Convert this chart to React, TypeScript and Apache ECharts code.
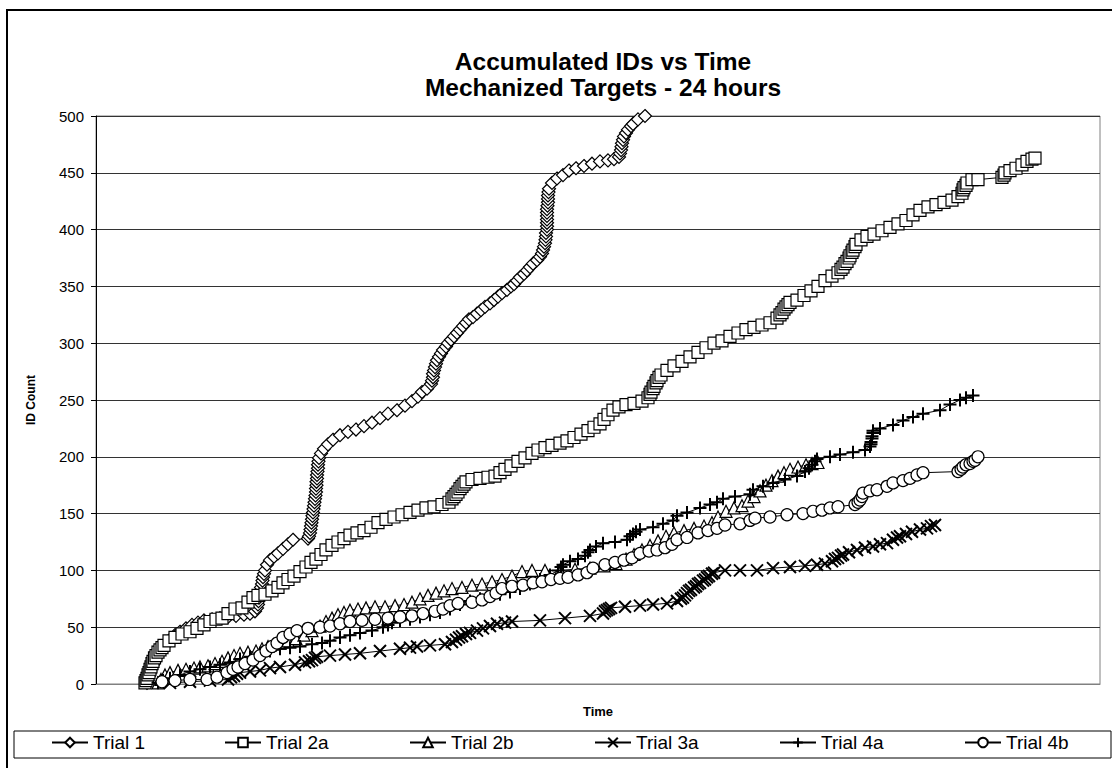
import React, { useEffect, useRef } from "react";
import * as echarts from "echarts";

// Time is in percent of the plotted time window (0 - 100.4), count is accumulated IDs
const trial1: [number, number][] = [
  [5.1, 1], [5.15, 3], [5.2, 5], [5.3, 7], [5.35, 9], [5.4, 11], [5.5, 13], [5.6, 15], [5.7, 17], [5.8, 19],
  [5.9, 21], [6.0, 23], [6.1, 25], [6.3, 27], [6.4, 29], [6.6, 31], [6.8, 33], [7.1, 36], [7.5, 40], [7.9, 43],
  [8.4, 46], [9.0, 49], [9.6, 52], [10.2, 54], [10.8, 56], [11.6, 57], [12.4, 58], [13.2, 59], [14.0, 60], [14.8, 61],
  [15.4, 62], [15.9, 64], [16.1, 67], [16.2, 70], [16.25, 73], [16.3, 76], [16.35, 79], [16.4, 82], [16.5, 85], [16.6, 88],
  [16.65, 91], [16.7, 94], [16.8, 97], [16.9, 100], [17.1, 105], [17.4, 109], [17.8, 112], [18.2, 115], [18.7, 119], [19.2, 123],
  [19.7, 127], [21.2, 128], [21.3, 130], [21.4, 133], [21.45, 136], [21.5, 139], [21.55, 142], [21.6, 145], [21.65, 148], [21.7, 151],
  [21.75, 154], [21.8, 157], [21.85, 160], [21.9, 163], [21.95, 166], [22.0, 169], [22.0, 172], [22.05, 175], [22.05, 178], [22.1, 181],
  [22.1, 184], [22.15, 187], [22.2, 190], [22.2, 193], [22.25, 196], [22.3, 199], [22.5, 203], [22.8, 207], [23.2, 211], [23.7, 215],
  [24.4, 219], [25.2, 222], [26.0, 224], [26.8, 227], [27.6, 230], [28.4, 234], [29.2, 238], [30.1, 241], [30.9, 245], [31.6, 249],
  [32.2, 253], [32.6, 257], [33.1, 260], [33.5, 264], [33.6, 267], [33.7, 270], [33.7, 273], [33.8, 276], [33.9, 279], [34.0, 282],
  [34.1, 285], [34.3, 288], [34.5, 291], [34.7, 294], [35.0, 297], [35.2, 300], [35.5, 303], [35.8, 306], [36.1, 309], [36.4, 312],
  [36.7, 315], [37.0, 318], [37.3, 321], [37.7, 323], [38.1, 326], [38.5, 329], [38.9, 332], [39.4, 335], [39.8, 338], [40.2, 341],
  [40.6, 344], [41.1, 347], [41.5, 350], [41.8, 352], [42.1, 355], [42.4, 358], [42.8, 361], [43.1, 364], [43.4, 367], [43.7, 370],
  [44.1, 373], [44.4, 376], [44.6, 379], [44.7, 382], [44.8, 385], [44.9, 388], [44.95, 391], [45.0, 394], [45.0, 397], [45.1, 400],
  [45.1, 403], [45.1, 406], [45.1, 409], [45.1, 412], [45.1, 415], [45.1, 418], [45.15, 421], [45.2, 424], [45.2, 427], [45.2, 430],
  [45.25, 433], [45.3, 436], [45.6, 441], [46.1, 445], [46.7, 448], [47.3, 452], [48.0, 454], [48.8, 456], [49.6, 458], [50.4, 460],
  [51.2, 461], [51.8, 462], [52.3, 464], [52.4, 467], [52.5, 470], [52.55, 473], [52.6, 476], [52.7, 479], [52.8, 482], [53.0, 485],
  [53.2, 488], [53.5, 491], [53.7, 493], [54.2, 497], [54.9, 500],
];

const trial2a: [number, number][] = [
  [4.9, 1], [5.0, 3], [5.1, 5], [5.2, 8], [5.3, 10], [5.4, 13], [5.5, 15], [5.6, 18], [5.7, 20], [5.85, 23],
  [6.0, 25], [6.2, 28], [6.4, 30], [6.6, 32], [6.8, 34], [7.3, 38], [7.9, 41], [8.6, 44], [9.4, 46], [10.1, 49],
  [10.8, 52], [11.4, 55], [12.0, 57], [12.6, 58], [13.2, 62], [13.9, 66], [14.6, 67], [15.2, 72], [15.7, 76], [16.2, 78],
  [16.9, 79], [17.6, 82], [18.2, 85], [18.7, 89], [19.2, 92], [19.8, 95], [20.4, 99], [21.0, 103], [21.5, 107], [22.0, 110],
  [22.5, 114], [23.0, 118], [23.6, 122], [24.2, 125], [24.8, 128], [25.4, 131], [26.1, 133], [26.8, 135], [27.5, 138], [28.2, 142],
  [29.0, 145], [29.8, 147], [30.6, 149], [31.4, 151], [32.2, 153], [33.0, 155], [33.8, 156], [34.6, 158], [35.3, 160], [35.6, 163],
  [35.8, 165], [36.0, 167], [36.2, 169], [36.4, 172], [36.6, 174], [36.8, 176], [37.0, 178], [37.6, 180], [38.4, 181], [39.2, 182],
  [39.9, 183], [40.4, 186], [40.9, 189], [41.5, 192], [42.2, 196], [42.9, 199], [43.6, 203], [44.2, 206], [44.9, 208], [45.6, 210],
  [46.4, 212], [47.1, 214], [47.8, 217], [48.5, 220], [49.2, 223], [49.8, 226], [50.4, 229], [50.8, 233], [51.2, 237], [51.7, 241],
  [52.3, 244], [53.0, 246], [53.8, 247], [54.6, 249], [55.2, 252], [55.4, 255], [55.5, 257], [55.7, 260], [55.8, 262], [56.0, 265],
  [56.1, 267], [56.3, 270], [56.5, 272], [57.1, 276], [57.8, 280], [58.6, 284], [59.4, 288], [60.2, 292], [61.0, 296], [61.8, 300],
  [62.6, 302], [63.4, 306], [64.2, 309], [65.0, 312], [65.8, 314], [66.6, 316], [67.4, 318], [68.1, 322], [68.4, 325], [68.6, 327],
  [68.8, 330], [69.0, 332], [69.2, 334], [69.4, 336], [70.1, 338], [70.8, 342], [71.5, 346], [72.2, 350], [72.9, 355], [73.6, 359],
  [74.2, 362], [74.5, 365], [74.7, 367], [74.9, 370], [75.1, 372], [75.3, 375], [75.4, 377], [75.6, 380], [75.7, 382], [75.9, 385],
  [76.0, 387], [76.5, 391], [77.1, 394], [77.8, 396], [78.6, 399], [79.4, 402], [80.2, 405], [81.0, 408], [81.7, 413], [82.4, 417],
  [83.2, 420], [84.0, 422], [84.8, 424], [85.6, 426], [86.2, 429], [86.6, 432], [86.7, 435], [86.8, 437], [87.0, 439], [87.1, 441],
  [87.6, 444], [88.2, 444], [90.6, 446], [90.8, 448], [90.9, 450], [91.4, 452], [92.0, 454], [92.6, 457], [93.1, 460], [93.6, 462],
  [93.9, 463],
];

const trial2b: [number, number][] = [
  [6.2, 1], [6.5, 4], [6.9, 8], [7.4, 10], [8.2, 12], [9.0, 13], [9.8, 14], [10.4, 15], [11.2, 16], [11.9, 18],
  [12.6, 20], [13.2, 23], [13.8, 25], [14.4, 27], [15.2, 28], [16.0, 29], [16.6, 31], [17.2, 33], [17.8, 35], [18.4, 36],
  [19.2, 38], [20.0, 40], [20.8, 43], [21.6, 47], [22.4, 51], [23.0, 55], [23.6, 58], [24.2, 61], [24.8, 63], [25.4, 65],
  [26.2, 66], [27.0, 67], [27.9, 68], [28.9, 68], [29.9, 69], [30.8, 70], [31.6, 72], [32.4, 75], [33.2, 78], [34.0, 80],
  [34.8, 82], [35.6, 84], [36.6, 85], [37.6, 87], [38.6, 88], [39.6, 90], [40.6, 92], [41.6, 95], [42.6, 99], [43.6, 100],
  [44.9, 100], [46.4, 100], [47.9, 101], [49.4, 102], [50.8, 104], [52.0, 106], [53.0, 110], [53.8, 114], [54.6, 118], [55.4, 122],
  [56.2, 126], [57.0, 130], [57.8, 133], [58.8, 135], [59.8, 137], [60.8, 139], [61.6, 142], [62.2, 147], [63.0, 152], [63.8, 155],
  [64.6, 157], [65.2, 161], [65.8, 165], [66.4, 170], [67.0, 175], [67.6, 179], [68.2, 183], [68.8, 186], [69.4, 189], [70.2, 191],
  [71.0, 193], [71.6, 194], [72.2, 195],
];

const trial3a: [number, number][] = [
  [7.4, 1], [9.4, 2], [11.4, 3], [13.2, 4], [13.5, 6], [13.8, 7], [14.1, 9], [14.4, 10], [15.4, 11], [16.4, 12],
  [17.4, 14], [18.4, 15], [19.9, 17], [20.9, 19], [21.3, 20], [21.6, 21], [21.9, 23], [22.1, 24], [23.4, 25], [24.9, 26],
  [26.4, 27], [28.4, 29], [30.4, 31], [31.4, 32], [32.1, 33], [33.4, 34], [34.9, 35], [35.6, 37], [36.0, 39], [36.3, 41],
  [36.6, 42], [37.0, 44], [37.4, 45], [38.1, 47], [38.7, 49], [39.4, 51], [40.1, 53], [40.9, 54], [41.6, 55], [44.4, 56],
  [46.9, 58], [49.4, 60], [50.7, 62], [50.9, 64], [51.1, 65], [51.3, 66], [51.5, 67], [52.9, 68], [54.4, 69], [55.7, 70],
  [57.1, 71], [58.1, 73], [58.5, 75], [58.7, 76], [58.9, 78], [59.1, 80], [59.3, 82], [59.5, 83], [59.8, 85], [60.0, 86],
  [60.2, 88], [60.4, 89], [60.7, 91], [60.9, 92], [61.1, 94], [61.3, 95], [61.6, 97], [61.8, 98], [62.9, 100], [64.4, 100],
  [66.1, 100], [67.7, 102], [69.4, 103], [70.9, 104], [72.1, 105], [72.9, 106], [73.6, 108], [73.9, 110], [74.2, 111], [74.5, 113],
  [74.7, 114], [75.3, 116], [76.1, 118], [76.9, 120], [77.7, 121], [78.4, 123], [79.1, 124], [79.7, 127], [80.1, 129], [80.4, 130],
  [81.0, 132], [81.6, 134], [82.4, 136], [83.1, 137], [83.5, 139], [83.9, 140],
];

const trial4a: [number, number][] = [
  [6.2, 1], [6.7, 3], [7.4, 5], [8.4, 8], [9.4, 11], [10.4, 13], [11.4, 15], [12.4, 17], [13.4, 19], [14.4, 22],
  [15.4, 24], [16.4, 27], [17.4, 29], [18.4, 31], [19.4, 32], [20.4, 33], [21.6, 35], [22.6, 36], [23.4, 38], [24.4, 41],
  [25.4, 43], [26.4, 45], [27.6, 47], [28.7, 50], [29.2, 52], [29.6, 54], [30.4, 56], [31.4, 57], [32.4, 59], [33.4, 61],
  [34.4, 63], [35.4, 66], [36.4, 70], [37.4, 73], [38.4, 75], [39.4, 77], [40.4, 79], [41.4, 81], [42.4, 84], [43.4, 88],
  [44.4, 92], [45.4, 96], [46.2, 100], [46.5, 103], [46.7, 105], [47.4, 108], [48.2, 110], [48.9, 113], [49.2, 116], [49.4, 118],
  [50.0, 121], [50.7, 124], [51.9, 125], [53.1, 127], [53.4, 130], [53.7, 132], [54.0, 134], [54.4, 136], [55.7, 138], [56.7, 141],
  [57.7, 144], [58.1, 148], [59.1, 151], [60.4, 155], [61.4, 158], [62.1, 160], [62.7, 163], [63.9, 165], [65.4, 167], [65.7, 171],
  [66.7, 174], [67.7, 177], [68.9, 180], [70.1, 183], [70.9, 187], [71.3, 190], [71.6, 193], [71.9, 196], [72.1, 198], [73.4, 200],
  [74.4, 202], [75.7, 204], [76.9, 206], [77.4, 209], [77.5, 211], [77.5, 213], [77.6, 216], [77.6, 218], [77.7, 221], [77.7, 223],
  [78.4, 225], [79.7, 228], [80.7, 232], [81.7, 235], [82.7, 238], [84.4, 241], [85.4, 246], [86.4, 250], [87.0, 252], [87.7, 254],
];

const trial4b: [number, number][] = [
  [6.6, 2], [7.9, 3], [9.4, 4], [11.1, 4], [12.1, 6], [13.1, 10], [13.7, 13], [14.2, 15], [14.9, 18], [15.7, 21],
  [16.4, 25], [17.0, 29], [17.6, 33], [18.1, 36], [18.7, 41], [19.4, 44], [20.1, 47], [21.2, 49], [22.4, 50], [23.4, 51],
  [24.4, 53], [25.4, 55], [26.6, 56], [27.9, 57], [29.2, 58], [30.4, 59], [31.6, 60], [32.7, 62], [33.9, 64], [34.7, 66],
  [35.4, 69], [36.2, 71], [37.6, 72], [38.6, 74], [39.4, 77], [40.0, 80], [40.6, 84], [41.6, 86], [42.7, 87], [43.7, 89],
  [44.6, 90], [45.5, 92], [46.4, 93], [47.2, 94], [48.2, 96], [49.1, 98], [49.7, 102], [50.9, 105], [51.9, 107], [52.8, 109],
  [53.6, 111], [54.4, 115], [55.3, 117], [56.1, 118], [56.9, 120], [57.6, 123], [58.1, 127], [59.1, 129], [60.2, 133], [61.2, 135],
  [62.1, 137], [62.9, 140], [64.4, 141], [65.4, 144], [65.9, 146], [67.4, 147], [69.1, 149], [70.7, 150], [71.7, 152], [72.6, 153],
  [73.4, 155], [74.2, 156], [75.9, 158], [76.2, 160], [76.4, 162], [76.6, 165], [76.7, 168], [77.4, 170], [78.1, 171], [79.1, 174],
  [79.7, 177], [80.7, 179], [81.4, 181], [82.1, 184], [82.7, 186], [86.2, 187], [86.5, 189], [86.7, 191], [87.0, 193], [87.4, 194],
  [87.7, 196], [87.9, 197], [88.2, 200],
];

const seriesNames = ["Trial 1", "Trial 2a", "Trial 2b", "Trial 3a", "Trial 4a", "Trial 4b"];
const yTicks = [0, 50, 100, 150, 200, 250, 300, 350, 400, 450, 500];

const FONT = '"Liberation Sans", Arial, Helvetica, sans-serif';
const CROSS = "path://M0,0L10,10M10,0L0,10";
const PLUS = "path://M5,0L5,10M0,5L10,5";

export default function App() {
  const ref = useRef<HTMLDivElement>(null);

  useEffect(() => {
    if (!ref.current) return;
    const chart = echarts.init(ref.current, null, { renderer: "svg" });

    const datasets = [trial1, trial2a, trial2b, trial3a, trial4a, trial4b];
    const symbols = ["diamond", "rect", "triangle", CROSS, PLUS, "circle"];
    const sizes = [13, 12, 12, 12, 13, 12];
    const legendLefts = [51, 224, 409, 594, 779, 964];

    const series = datasets.map((d, i) => {
      const isStroke = i === 3 || i === 4;
      return {
        name: seriesNames[i],
        type: "line",
        data: d,
        symbol: symbols[i],
        symbolSize: sizes[i],
        showAllSymbol: true,
        lineStyle: { color: "#000", width: 1 },
        itemStyle: {
          color: isStroke ? "#000" : "#fff",
          borderColor: "#000",
          borderWidth: isStroke ? 2 : 1.2,
        },
        emphasis: { disabled: true },
        z: 2 + i,
      };
    });

    const legends = seriesNames.map((n, i) => ({
      data: [n],
      left: legendLefts[i],
      top: 733,
      itemWidth: 36,
      itemHeight: 12,
      padding: 0,
      selectedMode: false,
      textStyle: { fontSize: 19, fontFamily: FONT, color: "#000" },
    }));

    chart.setOption({
      animation: false,
      backgroundColor: "#fff",
      title: {
        text: "Accumulated IDs vs Time\nMechanized Targets - 24 hours",
        left: 598,
        top: 43,
        textAlign: "center",
        textStyle: {
          fontSize: 24.5,
          fontWeight: "bold",
          fontFamily: FONT,
          color: "#000",
          lineHeight: 26,
        },
      },
      legend: legends,
      grid: {
        left: 96,
        right: 12,
        top: 116,
        bottom: 84,
        show: true,
        borderColor: "#808080",
        borderWidth: 1,
        containLabel: false,
      },
      xAxis: {
        type: "value",
        min: 0,
        max: 100.4,
        name: "Time",
        nameLocation: "middle",
        nameGap: 21,
        nameTextStyle: { fontSize: 13, fontWeight: "bold", fontFamily: FONT, color: "#000" },
        axisLine: { show: true, lineStyle: { color: "#808080", width: 1 } },
        axisTick: { show: false },
        axisLabel: { show: false },
        splitLine: { show: false },
      },
      yAxis: {
        type: "value",
        min: yTicks[0],
        max: yTicks[yTicks.length - 1],
        interval: 50,
        name: "ID Count",
        nameLocation: "middle",
        nameGap: 59,
        nameRotate: 90,
        nameTextStyle: { fontSize: 12, fontWeight: "bold", fontFamily: FONT, color: "#000" },
        axisLine: { show: true, lineStyle: { color: "#000", width: 1 } },
        axisTick: { show: true, inside: false, length: 5, lineStyle: { color: "#000" } },
        axisLabel: { fontSize: 15, fontFamily: FONT, color: "#000", margin: 12 },
        splitLine: { show: true, lineStyle: { color: "#333", width: 1 } },
      },
      graphic: [
        {
          type: "rect",
          shape: { x: 7, y: 10, width: 1112, height: 770 },
          style: { fill: "none", stroke: "#000", lineWidth: 2 },
          silent: true,
          z: 100,
        },
        {
          type: "rect",
          shape: { x: 14, y: 731, width: 1097, height: 27 },
          style: { fill: "none", stroke: "#000", lineWidth: 1 },
          silent: true,
          z: 100,
        },
      ],
      series,
    });

    return () => chart.dispose();
  }, []);

  return <div ref={ref} style={{ width: 1112, height: 768, position: "absolute", left: 0, top: 0 }} />;
}
